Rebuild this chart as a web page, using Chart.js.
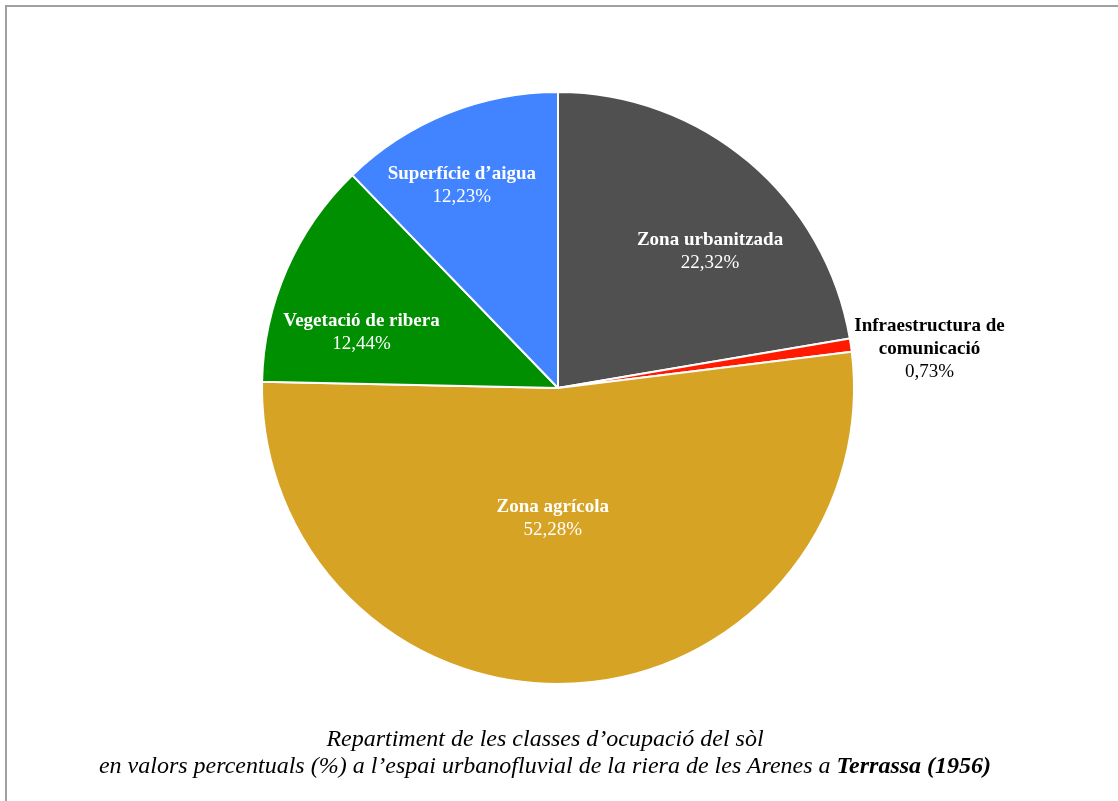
<!DOCTYPE html>
<html lang="ca">
<head>
<meta charset="utf-8">
<title>Repartiment de les classes d'ocupació del sòl — Terrassa (1956)</title>
<script src="https://cdn.jsdelivr.net/npm/chart.js@4/dist/chart.umd.min.js"></script>
<style>
  html, body { margin: 0; padding: 0; background: #ffffff; }
  #wrap { position: relative; width: 1118px; height: 801px; overflow: hidden; }
  #frame {
    position: absolute; left: 5px; top: 5px; right: -10px; bottom: -10px;
    border-top: 2px solid #a0a0a0; border-left: 2px solid #a0a0a0;
    pointer-events: none;
  }
  canvas { position: absolute; left: 0; top: 0; }
  #caption {
    position: absolute; left: 0; width: 1090px; top: 725px;
    text-align: center; font-family: "Liberation Serif", "DejaVu Serif", serif;
    font-style: italic; font-size: 24px; line-height: 27px; color: #000;
    white-space: nowrap;
  }
</style>
</head>
<body>
<div id="wrap">
  <canvas id="chart" width="1118" height="801"></canvas>
  <div id="frame"></div>
  <div id="caption">Repartiment de les classes d’ocupació del sòl<br>en valors percentuals (%) a l’espai urbanofluvial de la riera de les Arenes a <b>Terrassa (1956)</b></div>
</div>
<script>
// Land-use classes, clockwise from twelve o'clock
const categories = [
  'Zona urbanitzada',
  'Infraestructura de comunicació',
  'Zona agrícola',
  'Vegetació de ribera',
  'Superfície d’aigua'
];
// Share of each class (%)
const percentages = [22.32, 0.73, 52.28, 12.44, 12.23];
const sliceColors = ['#505050', '#ff1a00', '#d7a324', '#008f00', '#4284ff'];
const labelColors = ['#ffffff', '#000000', '#ffffff', '#ffffff', '#ffffff'];

// Where each label sits: angle (degrees, 0 = 3 o'clock, clockwise) and distance as a fraction of the radius
const labelAngles = [-41.9, -6.0, 92.3, 195.8, 244.6];
const labelRadii = [0.69, 1.262, 0.44, 0.69, 0.757];

const fmt = v => v.toFixed(2).replace('.', ',') + '%';

const pieLabels = {
  id: 'pieLabels',
  afterDatasetsDraw(chart) {
    const ctx = chart.ctx;
    const arcs = chart.getDatasetMeta(0).data;
    const lineH = 23;
    const nameFont = 'bold 19px "Liberation Serif", "DejaVu Serif", serif';
    const valueFont = '19px "Liberation Serif", "DejaVu Serif", serif';
    ctx.save();
    ctx.textAlign = 'center';
    ctx.textBaseline = 'middle';
    arcs.forEach((arc, i) => {
      const { x, y, outerRadius } = arc.getProps(['x', 'y', 'outerRadius'], true);
      const a = labelAngles[i] * Math.PI / 180;
      const r = labelRadii[i] * outerRadius;
      const cx = x + Math.cos(a) * r;
      const cy = y + Math.sin(a) * r;
      // wrap long names onto several lines
      ctx.font = nameFont;
      const words = categories[i].split(' ');
      const lines = [];
      let cur = '';
      words.forEach(w => {
        const t = cur ? cur + ' ' + w : w;
        if (cur && ctx.measureText(t).width > 175) { lines.push(cur); cur = w; }
        else cur = t;
      });
      lines.push(cur);
      const total = lines.length + 1;
      const y0 = cy - (total - 1) * lineH / 2;
      ctx.fillStyle = labelColors[i];
      lines.forEach((ln, k) => ctx.fillText(ln, cx, y0 + k * lineH));
      ctx.font = valueFont;
      ctx.fillText(fmt(percentages[i]), cx, y0 + lines.length * lineH);
    });
    ctx.restore();
  }
};

new Chart(document.getElementById('chart'), {
  type: 'pie',
  data: {
    labels: categories,
    datasets: [{
      data: percentages,
      backgroundColor: sliceColors,
      borderColor: '#ffffff',
      borderWidth: 2
    }]
  },
  options: {
    responsive: false,
    animation: false,
    layout: { padding: { top: 91, bottom: 116, left: 261, right: 263 } },
    plugins: {
      legend: { display: false },
      tooltip: { enabled: false },
      title: { display: false }
    }
  },
  plugins: [pieLabels]
});
</script>
</body>
</html>
